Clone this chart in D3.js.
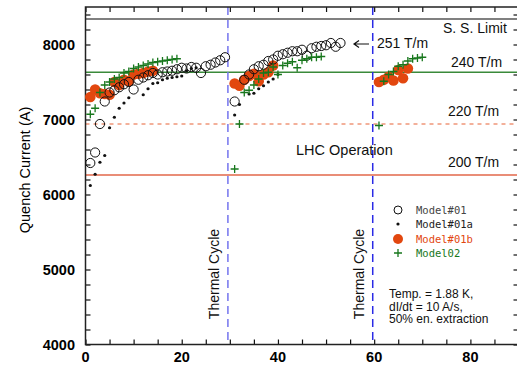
<!DOCTYPE html>
<html>
<head>
<meta charset="utf-8">
<script src="https://cdn.jsdelivr.net/npm/d3@7"></script>
<style>
  body { margin: 0; background: #fff; }
  svg { display: block; }
</style>
</head>
<body>
<script>
// quench number, quench current (A)
var model01 = [
  [1, 6420], [2, 6560], [3, 6940], [4, 7240], [5, 7360], [6, 7390], [7, 7430], [8, 7470],
  [9, 7500], [10, 7400], [11, 7530], [12, 7560], [13, 7590], [14, 7620], [15, 7600],
  [16, 7630], [17, 7640], [18, 7650], [19, 7670], [20, 7690], [21, 7680], [22, 7700],
  [23, 7690], [24, 7620], [25, 7710], [26, 7730], [27, 7760], [28, 7790], [29, 7830],
  [31, 7240], [33, 7530], [34, 7600], [35, 7670], [36, 7710], [37, 7730], [38, 7780],
  [39, 7800], [40, 7850], [41, 7870], [42, 7890], [43, 7910], [44, 7910], [45, 7930],
  [46, 7850], [47, 7950], [48, 7970], [49, 7980], [50, 7990], [51, 8020], [52, 7970], [53, 8020]
];
var model01a = [
  [1, 6120], [2, 6270], [3, 6430], [4, 6520], [5, 6890], [6, 7030], [7, 7150], [8, 7220],
  [9, 7290], [12, 7330], [13, 7410], [14, 7480], [15, 7490], [16, 7530], [17, 7550],
  [18, 7560], [19, 7570], [20, 7580], [21, 7650], [22, 7680], [23, 7690],
  [31, 7060], [32, 7200], [34, 7340], [35, 7350], [36, 7410], [37, 7450], [38, 7500],
  [39, 7540], [40, 7600]
];
var model01b = [
  [1, 7300], [2, 7400], [3, 7350], [4, 7340], [5, 7330], [6, 7500], [7, 7460], [8, 7530],
  [9, 7510], [10, 7600], [11, 7610], [12, 7620], [13, 7640], [14, 7650],
  [31, 7480], [32, 7450], [33, 7530], [34, 7580], [35, 7610], [36, 7510], [37, 7600],
  [38, 7630], [39, 7720],
  [61, 7500], [62, 7530], [63, 7570], [64, 7520], [65, 7660], [66, 7550], [67, 7680]
];
var model02 = [
  [1, 7070], [2, 7150], [3, 7360], [4, 7460], [5, 7500], [6, 7540], [7, 7560], [8, 7620],
  [9, 7640], [10, 7680], [11, 7700], [12, 7720], [13, 7740], [14, 7760], [15, 7770],
  [16, 7780], [17, 7790], [18, 7800], [19, 7810],
  [31, 6340], [32, 6940], [33, 7360], [34, 7390], [35, 7460], [36, 7540], [37, 7620],
  [38, 7630], [39, 7700], [40, 7600], [41, 7720], [42, 7750], [43, 7770], [44, 7690],
  [45, 7790], [46, 7810], [47, 7830], [48, 7830], [49, 7840],
  [61, 6920], [62, 7510], [63, 7600], [64, 7640], [65, 7710], [66, 7730], [67, 7780],
  [68, 7810], [69, 7820], [70, 7830]
];

// horizontal reference levels
var levelNames = ["S. S. Limit", "240 T/m", "220 T/m", "200 T/m"];
var levelValues = [8340, 7630, 6940, 6260];
var thermalCycles = [29.6, 59.7];

var xTicks = [0, 20, 40, 60, 80];
var yTicks = [4000, 5000, 6000, 7000, 8000];
var legendNames = ["Model#01", "Model#01a", "Model#01b", "Model02"];

var W = 517, H = 366;
var orange = "#e2470f", green = "#17771c";

var svg = d3.select("body").append("svg")
    .attr("width", W)
    .attr("height", H)
    .style("font-family", "'Liberation Sans', Arial, sans-serif");

var x = d3.scaleLinear().domain([0, 90]).range([85.5, 518.5]);
var y = d3.scaleLinear().domain([4000, 8500]).range([344.5, 7]);

// reference lines
var lineStyles = [
  {stroke: "#808080", width: 2.2, dash: null},
  {stroke: "#3a8a3a", width: 1.3, dash: null},
  {stroke: "#f0977a", width: 1.6, dash: "4,4"},
  {stroke: "#e2674a", width: 1.6, dash: null}
];
svg.selectAll(".level")
    .data(levelValues)
    .enter().append("line")
    .attr("class", "level")
    .attr("x1", x(0)).attr("x2", x(90))
    .attr("y1", function (d) { return y(d); })
    .attr("y2", function (d) { return y(d); })
    .attr("stroke", function (d, i) { return lineStyles[i].stroke; })
    .attr("stroke-width", function (d, i) { return lineStyles[i].width; })
    .attr("stroke-dasharray", function (d, i) { return lineStyles[i].dash; });

svg.selectAll(".cycle")
    .data(thermalCycles)
    .enter().append("line")
    .attr("class", "cycle")
    .attr("x1", function (d) { return x(d); })
    .attr("x2", function (d) { return x(d); })
    .attr("y1", y(8500)).attr("y2", y(4000))
    .attr("stroke", function (d, i) { return i == 0 ? "#7474ee" : "#2a2ae6"; })
    .attr("stroke-width", 1.5)
    .attr("stroke-dasharray", "8,5");

// axes box, ticks inward
function addAxis(axis, tx, ty) {
  var g = svg.append("g").attr("transform", "translate(" + tx + "," + ty + ")").call(axis);
  g.select(".domain").remove();
  g.selectAll("line").attr("stroke", "#111").attr("stroke-width", 1.2);
  g.selectAll("text").remove();
  return g;
}
var xMinor = d3.range(0, 91, 5), yMinor = d3.range(4000, 8501, 200);
addAxis(d3.axisTop(x).tickValues(xMinor).tickSize(5), 0, y(4000));
addAxis(d3.axisBottom(x).tickValues(xMinor).tickSize(5), 0, y(8500));
addAxis(d3.axisRight(y).tickValues(yMinor).tickSize(5), x(0), 0);
addAxis(d3.axisLeft(y).tickValues(yMinor).tickSize(5), x(90), 0);

svg.append("rect")
    .attr("x", x(0)).attr("y", y(8500))
    .attr("width", x(90) - x(0)).attr("height", y(4000) - y(8500))
    .attr("fill", "none").attr("stroke", "#222").attr("stroke-width", 1.5);

svg.selectAll(".xlab")
    .data(xTicks)
    .enter().append("text")
    .attr("x", function (d) { return x(d); })
    .attr("y", 362)
    .attr("text-anchor", "middle")
    .attr("font-size", "14.5px").attr("font-weight", "bold")
    .text(function (d) { return d; });

svg.selectAll(".ylab")
    .data(yTicks)
    .enter().append("text")
    .attr("x", 75)
    .attr("y", function (d) { return y(d) + 5; })
    .attr("text-anchor", "end")
    .attr("font-size", "14.5px").attr("font-weight", "bold")
    .text(function (d) { return d; });

svg.append("text")
    .attr("transform", "translate(30,170) rotate(-90)")
    .attr("text-anchor", "middle")
    .attr("font-size", "14.5px")
    .text("Quench Current (A)");

// data marks
svg.selectAll(".m01b")
    .data(model01b)
    .enter().append("circle")
    .attr("cx", function (d) { return x(d[0]); })
    .attr("cy", function (d) { return y(d[1]); })
    .attr("r", 5.3)
    .attr("fill", orange);

svg.selectAll(".m01")
    .data(model01)
    .enter().append("circle")
    .attr("cx", function (d) { return x(d[0]); })
    .attr("cy", function (d) { return y(d[1]); })
    .attr("r", 4.6)
    .attr("fill", "none").attr("stroke", "#111").attr("stroke-width", 1);

svg.selectAll(".m01a")
    .data(model01a)
    .enter().append("circle")
    .attr("cx", function (d) { return x(d[0]); })
    .attr("cy", function (d) { return y(d[1]); })
    .attr("r", 1.6)
    .attr("fill", "#111");

var plus = "M-4,0H4M0,-4V4";
svg.selectAll(".m02")
    .data(model02)
    .enter().append("path")
    .attr("transform", function (d) { return "translate(" + x(d[0]) + "," + y(d[1]) + ")"; })
    .attr("d", plus)
    .attr("stroke", green).attr("stroke-width", 1.3).attr("fill", "none");

// labels
var labelPos = [[443, 33], [451, 67], [448, 116], [448, 167]];
svg.selectAll(".lvlText")
    .data(levelNames)
    .enter().append("text")
    .attr("x", function (d, i) { return labelPos[i][0]; })
    .attr("y", function (d, i) { return labelPos[i][1]; })
    .attr("font-size", "14px").attr("fill", "#111")
    .text(function (d) { return d; });

svg.append("text").attr("x", 377).attr("y", 48)
    .attr("font-size", "14px").attr("fill", "#111").text("251 T/m");
svg.append("path")
    .attr("d", "M369,44H354M359,40.5L354,44L359,47.5")
    .attr("stroke", "#111").attr("stroke-width", 1.2).attr("fill", "none");

svg.append("text").attr("x", 296).attr("y", 155)
    .attr("font-size", "14.5px").attr("fill", "#111").text("LHC Operation");

svg.selectAll(".tcText")
    .data(thermalCycles)
    .enter().append("text")
    .attr("transform", function (d) { return "translate(" + (x(d) - 9) + ",274) rotate(-90)"; })
    .attr("text-anchor", "middle")
    .attr("font-size", "14px").attr("fill", "#111")
    .text("Thermal Cycle");

// legend
var legendColors = ["#444", "#222", orange, green];
var legY = [210, 224, 239, 253];
var leg = svg.append("g");
leg.append("circle").attr("cx", 398).attr("cy", legY[0]).attr("r", 4)
    .attr("fill", "none").attr("stroke", "#111").attr("stroke-width", 1);
leg.append("circle").attr("cx", 398).attr("cy", legY[1]).attr("r", 1.6).attr("fill", "#111");
leg.append("circle").attr("cx", 398).attr("cy", legY[2]).attr("r", 5).attr("fill", orange);
leg.append("path").attr("transform", "translate(398," + legY[3] + ")")
    .attr("d", plus).attr("stroke", green).attr("stroke-width", 1.3);
leg.selectAll("text")
    .data(legendNames)
    .enter().append("text")
    .attr("x", 416)
    .attr("y", function (d, i) { return legY[i] + 4; })
    .attr("font-family", "'DejaVu Sans Mono', monospace")
    .attr("font-size", "10.5px")
    .attr("fill", function (d, i) { return legendColors[i]; })
    .text(function (d) { return d; });

var notes = ["Temp. = 1.88 K,", "dI/dt = 10 A/s,", "50% en. extraction"];
svg.selectAll(".note")
    .data(notes)
    .enter().append("text")
    .attr("x", 389)
    .attr("y", function (d, i) { return 298 + i * 12.5; })
    .attr("font-size", "12px").attr("fill", "#111")
    .text(function (d) { return d; });
</script>
</body>
</html>
